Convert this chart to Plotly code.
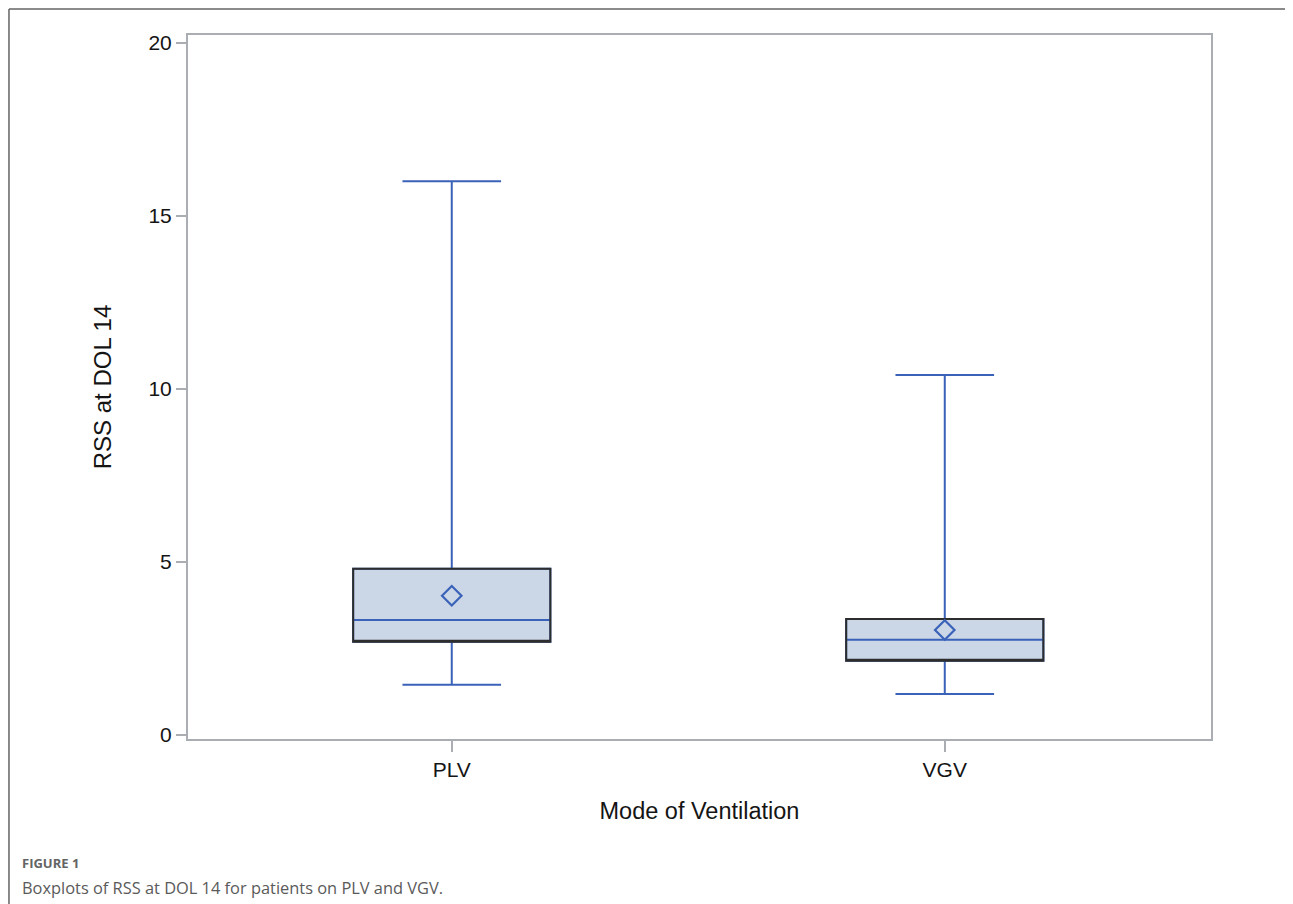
import plotly.graph_objects as go

categories = ["PLV", "VGV"]
positions = [0, 1]
lower_whisker = [1.45, 1.18]
q1 = [2.69, 2.14]
median = [3.32, 2.75]
q3 = [4.80, 3.35]
upper_whisker = [16.0, 10.40]
mean = [4.02, 3.03]

y_ticks = [0, 5, 10, 15, 20]

BLUE = "rgb(58,98,185)"
FILL = "rgb(203,214,230)"
DARK = "rgb(45,45,45)"
GRID = "rgb(170,174,178)"
FONT = "Liberation Sans, Arial, sans-serif"
TXT = "rgb(20,20,20)"

fig = go.Figure()

# whiskers, fill and blue median
fig.add_trace(go.Box(
    x=positions, q1=q1, median=median, q3=q3,
    lowerfence=lower_whisker, upperfence=upper_whisker,
    width=0.4, whiskerwidth=0.5,
    line=dict(color=BLUE, width=2), fillcolor=FILL,
    boxpoints=False, showlegend=False, hoverinfo="skip",
))
# dark box outline (median collapsed onto q1 so the blue median stays visible)
fig.add_trace(go.Box(
    x=positions, q1=q1, median=q1, q3=q3,
    lowerfence=q1, upperfence=q3,
    width=0.4, whiskerwidth=0,
    line=dict(color=DARK, width=2), fillcolor="rgba(0,0,0,0)",
    boxpoints=False, showlegend=False, hoverinfo="skip",
))
# mean markers
fig.add_trace(go.Scatter(
    x=positions, y=mean, mode="markers",
    marker=dict(symbol="diamond-open", size=15, color=BLUE, line=dict(width=2.2, color=BLUE)),
    showlegend=False, hoverinfo="skip",
))

fig.update_layout(
    width=1277, height=896,
    margin=dict(l=180, r=74, t=27, b=165),
    paper_bgcolor="white", plot_bgcolor="white",
    boxmode="overlay",
    font=dict(family=FONT, color=TXT),
    xaxis=dict(
        range=[-0.535, 1.54], tickvals=positions, ticktext=categories,
        showgrid=False, zeroline=False,
        showline=True, mirror=True, linecolor=GRID, linewidth=2,
        ticks="outside", ticklen=11, tickwidth=2, tickcolor=GRID,
        tickfont=dict(size=21, family=FONT, color=TXT),
        title=dict(text="Mode of Ventilation", font=dict(size=23.5, family=FONT, color=TXT), standoff=22),
    ),
    yaxis=dict(
        range=[-0.12, 20.23], tickvals=y_ticks,
        showgrid=False, zeroline=False,
        showline=True, mirror=True, linecolor=GRID, linewidth=2,
        ticks="outside", ticklen=10, tickwidth=2, tickcolor=GRID,
        tickfont=dict(size=21, family=FONT, color=TXT),
        title=dict(text="RSS at DOL 14", font=dict(size=24, family=FONT, color=TXT), standoff=30),
    ),
)

# outer figure border (left and top edges)
fig.add_shape(type="line", xref="paper", yref="paper", x0=-0.175, x1=-0.175, y0=1.037, y1=-0.3,
              line=dict(color="rgb(100,100,100)", width=1.5))
fig.add_shape(type="line", xref="paper", yref="paper", x0=-0.175, x1=1.2, y0=1.037, y1=1.037,
              line=dict(color="rgb(100,100,100)", width=1.5))

fig.add_annotation(text="<b>FIGURE 1</b>", xref="paper", yref="paper", x=-0.164, y=-0.176,
                   xanchor="left", yanchor="middle", showarrow=False,
                   font=dict(family="Open Sans, sans-serif", size=13, color="rgb(100,100,100)"))
fig.add_annotation(text="Boxplots of RSS at DOL 14 for patients on PLV and VGV.", xref="paper", yref="paper",
                   x=-0.164, y=-0.2115, xanchor="left", yanchor="middle", showarrow=False,
                   font=dict(family="Open Sans, sans-serif", size=16.4, color="rgb(90,90,90)"))

fig.write_html("out.html")
